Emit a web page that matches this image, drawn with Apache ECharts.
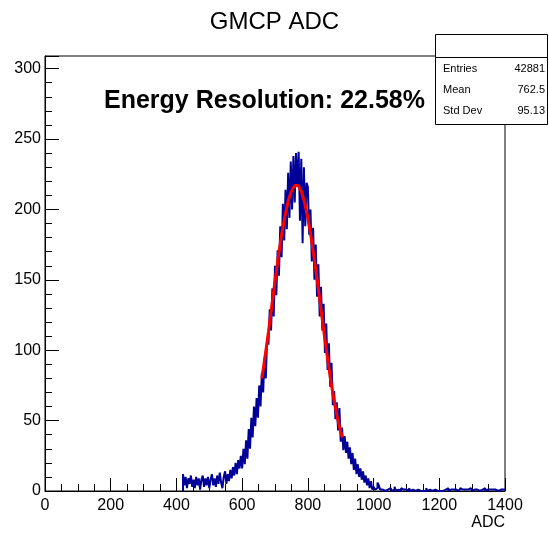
<!DOCTYPE html>
<html>
<head>
<meta charset="utf-8">
<script src="https://cdn.jsdelivr.net/npm/echarts@6/dist/echarts.min.js"></script>
<style>html,body{margin:0;padding:0;background:#fff}#c{width:549px;height:536px}</style>
</head>
<body>
<div id="c"></div>
<script>
// Histogram binning (ADC), counts per bin
const binStart = 420;
const binWidth = 4;
const counts = [
  12,4,10,2,9,5,11,3,8,2,10,4,9,1,8,11,3,9,4,10,2,8,12,4,9,
  3,11,5,13,6,2,10,14,5,12,
  7,15,9,17,11,20,12,22,16,25,
  16,30,19,36,23,44,30,52,38,60,
  46,66,52,75,60,84,70,95,80,108,
  104,129,114,144,124,160,139,171,153,188,
  166,204,178,214,186,226,194,234,200,238,
  205,240,216,241,192,236,176,230,188,219,
  216,182,200,163,187,150,175,138,161,124,
  145,114,133,98,119,86,105,74,91,61,
  71,51,63,43,59,35,45,29,39,27,
  35,23,31,19,27,15,23,12,19,10,
  16,8,14,6,11,4,9,2,7,1,
  3,1,2,6,4,1,1,2,0,1,
  1,0,2,1,0,1,3,0,1,1,
  0,2,1,0,1,1,0,2,0,1,
  1,0,0,1,2,0,1,0,1,0,
  2,0,1,1,0,0,1,2,0,1,
  0,1,0,1,1,0,2,0,1,0,
  1,0,1,0,0,1,2,1,0,1,
  0,1,0,2,1,0,1,0,1,1,
  0,1,1,0,2,0,1,0,1,0,
  1,0,1,2,0,1,1,0,1,1
];
// Gaussian fit curve
const fitX = [660,670,680,690,700,710,720,730,740,750,760,770,780,790,800,810,820,830,840,850,860,870,880,890,900,905];
const fitY = [80,96,113,131,149,166,182,195,206,213,217,217,213,205,194,180,164,147,129,111,94,78,64,52,42,38];
// Axis ticks
const xTicks = [0,200,400,600,800,1000,1200,1400];
const yTicks = [0,50,100,150,200,250,300];
// Stats box
const statLabels = ['Entries','Mean','Std Dev'];
const statValues = ['42881','762.5','95.13'];

const histData = [[binStart, 0]];
counts.forEach((v, i) => histData.push([binStart + i * binWidth, v]));
histData.push([binStart + counts.length * binWidth, counts[counts.length - 1]]);
const fitData = fitX.map((x, i) => [x, fitY[i]]);

const FONT = "'Liberation Sans', Arial, Helvetica, sans-serif";
const chart = echarts.init(document.getElementById('c'), null, {renderer: 'canvas'});

const statText = [];
statLabels.forEach((l, i) => {
  const y = 69 + i * 21;
  statText.push({type:'text', z:101, style:{text:l, x:443, y:y, font:'11px ' + FONT, fill:'#000', textVerticalAlign:'middle'}});
  statText.push({type:'text', z:101, style:{text:statValues[i], x:545, y:y, font:'11px ' + FONT, fill:'#000', textAlign:'right', textVerticalAlign:'middle'}});
});

chart.setOption({
  animation: false,
  backgroundColor: '#fff',
  title: {text: 'GMCP ADC', left: 'center', top: 5, textStyle: {fontFamily: FONT, fontWeight: 'normal', fontSize: 24, color: '#000'}},
  grid: {left: 45, right: 44, top: 56, bottom: 45, show: true, borderColor: '#000', borderWidth: 1, backgroundColor: 'transparent'},
  xAxis: {
    type: 'value', min: xTicks[0], max: xTicks[xTicks.length-1], interval: 200,
    axisLine: {show: true, lineStyle: {color: '#000', width: 1}},
    axisTick: {show: true, inside: true, length: 13, lineStyle: {color: '#000'}},
    minorTick: {show: true, splitNumber: 4, length: 7, lineStyle: {color: '#000'}},
    axisLabel: {color: '#000', fontFamily: FONT, fontSize: 16, margin: 7, formatter: v => String(v)},
    splitLine: {show: false}
  },
  yAxis: {
    type: 'value', min: yTicks[0], max: 309, interval: 50,
    axisLine: {show: true, lineStyle: {color: '#000', width: 1}},
    axisTick: {show: true, inside: true, length: 14, lineStyle: {color: '#000'}},
    minorTick: {show: true, splitNumber: 5, length: 7, lineStyle: {color: '#000'}},
    axisLabel: {color: '#000', fontFamily: FONT, fontSize: 16, margin: 4, showMaxLabel: false, formatter: v => String(v)},
    splitLine: {show: false}
  },
  series: [
    {type: 'line', data: histData, step: 'end', symbol: 'none', lineStyle: {color: '#000099', width: 2}, z: 2},
    {type: 'line', data: fitData, symbol: 'none', smooth: false, lineStyle: {color: '#ff0000', width: 3}, z: 3}
  ],
  graphic: [
    {type:'text', z:100, style:{text:'Energy Resolution: 22.58%', x:104, y:101, font:'bold 25px ' + FONT, fill:'#000', textVerticalAlign:'middle'}},
    {type:'text', z:100, style:{text:'ADC', x:505, y:523, font:'16px ' + FONT, fill:'#000', textAlign:'right', textVerticalAlign:'middle'}},
    {type:'rect', z:100, shape:{x:435.5, y:34.5, width:112, height:90}, style:{fill:'#fff', stroke:'#000', lineWidth:1}},
    {type:'line', z:101, shape:{x1:435.5, y1:57.5, x2:547.5, y2:57.5}, style:{stroke:'#000', lineWidth:1}}
  ].concat(statText)
});
</script>
</body>
</html>
